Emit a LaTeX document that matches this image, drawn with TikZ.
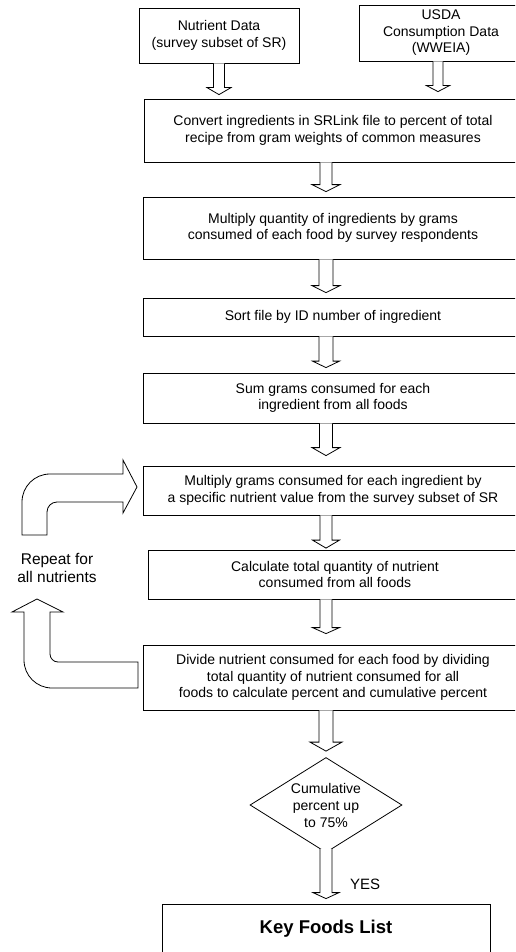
\documentclass[tikz,border=0pt]{standalone}
\usepackage{fontspec}
\setmainfont{Liberation Sans}
\usetikzlibrary{shapes.geometric,calc}
\tikzset{
  outl/.style={draw=black, line width=0.8pt},
  box/.style={outl, rectangle, align=center, inner sep=0pt, font=\fontsize{14}{16.5}\selectfont},
  lbl/.style={align=center, inner sep=0pt},
}
% #1 from, #2 to, #3 x-coordinate, #4 gap, #5 shaft half, #6 head half, #7 head length
\newcommand\hollow[7]{%
  \draw[outl, fill=white] let \p1=(#1 -| #3), \p2=(#2 -| #3) in
    ({\x1-#5},\y1) -- ({\x1-#5},{\y2+#4+#7}) -- ({\x1-#6},{\y2+#4+#7}) --
    (\x1,{\y2+#4}) -- ({\x1+#6},{\y2+#4+#7}) -- ({\x1+#5},{\y2+#4+#7}) -- ({\x1+#5},\y1);}
\begin{document}
\begin{tikzpicture}[x=1pt,y=-1pt]
\useasboundingbox (0,0) rectangle (515,952);
\clip (0,0) rectangle (515,952);
\coordinate (cx) at (326,0);
\coordinate (ca) at (219,0);
\coordinate (cb) at (438,0);

\node[box, minimum width=160, minimum height=55] (nd) at (219,35.5) {Nutrient Data\\(survey subset of SR)};
\node[box, minimum width=164, minimum height=56] (us) at (441,33) {USDA\\Consumption Data\\(WWEIA)};
\node[box, minimum width=378, minimum height=63] (b1) at (333,130.5) {Convert ingredients in SRLink file to percent of total\\recipe from gram weights of common measures};
\node[box, minimum width=380, minimum height=62] (b2) at (333,228) {Multiply quantity of ingredients by grams\\consumed of each food by survey respondents};
\node[box, minimum width=380, minimum height=38] (b3) at (333,317) {Sort file by ID number of ingredient};
\node[box, minimum width=380, minimum height=50] (b4) at (333,398) {Sum grams consumed for each\\ingredient from all foods};
\node[box, minimum width=380, minimum height=49] (b5) at (333,490.5) {Multiply grams consumed for each ingredient by\\a specific nutrient value from the survey subset of SR};
\node[box, minimum width=374, minimum height=49] (b6) at (335,574.5) {Calculate total quantity of nutrient\\consumed from all foods};
\node[box, minimum width=380, minimum height=65] (b7) at (333,677.5) {Divide nutrient consumed for each food by dividing\\total quantity of nutrient consumed for all\\foods to calculate percent and cumulative percent};
\node[outl, diamond, aspect=1.6, inner sep=0pt, minimum width=152, minimum height=95, align=center,
      font=\fontsize{14}{17}\selectfont] (dm) at (326,805) {Cumulative\\percent up\\to 75\%};
\node[box, minimum width=328, minimum height=50, font=\bfseries\fontsize{18.5}{20}\selectfont] (kf) at (326,929) {Key Foods List};

\node[lbl, font=\fontsize{15.5}{18}\selectfont] (rp) at (57,568) {Repeat for\\all nutrients};
\node[lbl, anchor=west, font=\fontsize{15}{18}\selectfont] (yes) at (350,884) {YES};

\hollow{nd.south}{b1.north}{ca}{4pt}{5.5pt}{12pt}{7pt}
\hollow{us.south}{b1.north}{cb}{7pt}{5pt}{11.5pt}{6pt}
\hollow{b1.south}{b2.north}{cx}{5pt}{6pt}{14pt}{7pt}
\hollow{b2.south}{b3.north}{cx}{5pt}{7pt}{14pt}{7pt}
\hollow{b3.south}{b4.north}{cx}{5pt}{7pt}{13.5pt}{6.5pt}
\hollow{b4.south}{b5.north}{cx}{10pt}{6.5pt}{14pt}{8pt}
\hollow{b5.south}{b6.north}{cx}{1.5pt}{6pt}{13.5pt}{8pt}
\hollow{b6.south}{b7.north}{cx}{11pt}{6pt}{13.5pt}{6pt}
\hollow{b7.south}{dm.north}{cx}{6pt}{7pt}{16pt}{9pt}
\hollow{[yshift=4pt]dm.south}{kf.north}{cx}{5pt}{6pt}{13pt}{6pt}

% repeat loop arrows
\draw[outl] (22,535) -- (22,502) .. controls (22,486.5) and (34.5,474) .. (50,474)
  -- (123,474) -- (123,460) -- (137,487) -- (123,513) -- (123,502) -- (57,502)
  .. controls (51.5,502) and (47,506.5) .. (47,512) -- (47,535) -- cycle;
\draw[outl] (37,599) -- (63,612) -- (50,612) -- (50,654)
  .. controls (50,658.4) and (53.6,662) .. (58,662) -- (138,662) -- (138,688) -- (52,688)
  .. controls (36.5,688) and (24,675.5) .. (24,660) -- (24,612) -- (12,612) -- cycle;
\end{tikzpicture}
\end{document}
